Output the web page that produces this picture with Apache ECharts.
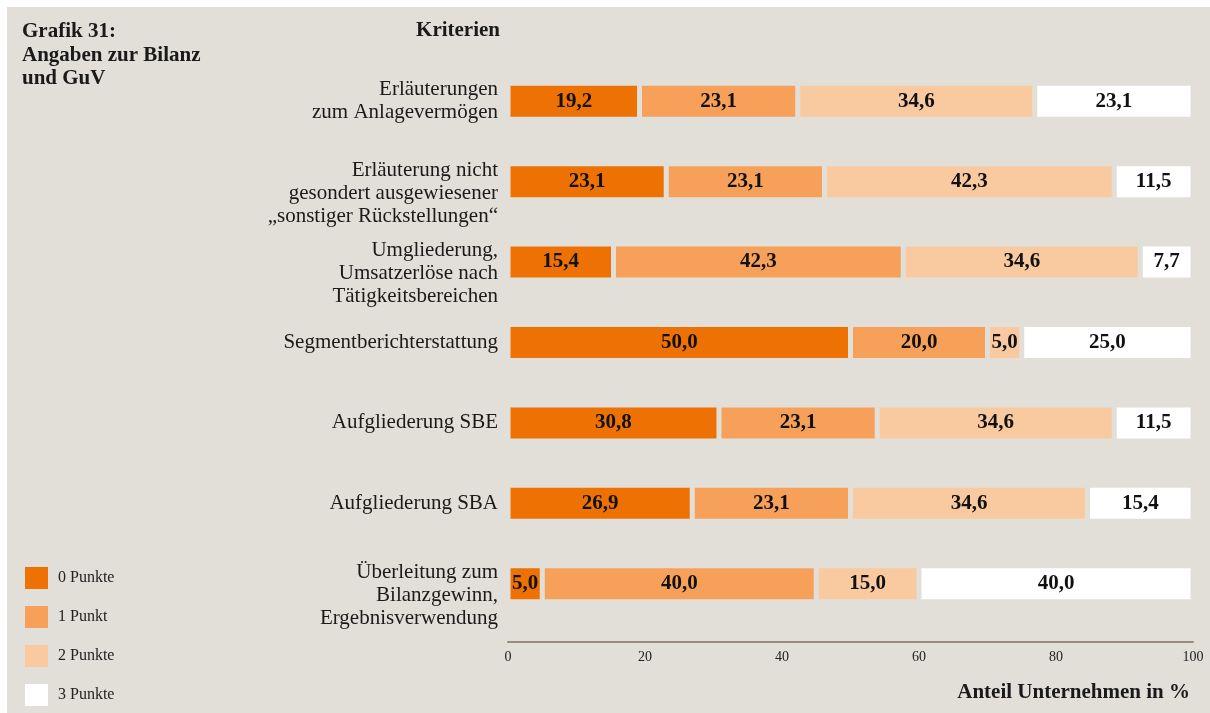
<!DOCTYPE html>
<html>
<head>
<meta charset="utf-8">
<script src="https://cdn.jsdelivr.net/npm/echarts@6/dist/echarts.min.js"></script>
<style>
  html, body { margin: 0; padding: 0; background: #ffffff; }
  #chart { position: absolute; left: 7px; top: 7px; width: 1203px; height: 706px; }
</style>
</head>
<body>
<div id="chart"></div>
<script>
// Kriterien (von oben nach unten)
var categories = [
  'Erläuterungen\nzum Anlagevermögen',
  'Erläuterung nicht\ngesondert ausgewiesener\n„sonstiger Rückstellungen“',
  'Umgliederung,\nUmsatzerlöse nach\nTätigkeitsbereichen',
  'Segmentberichterstattung',
  'Aufgliederung SBE',
  'Aufgliederung SBA',
  'Überleitung zum\nBilanzgewinn,\nErgebnisverwendung'
];
var seriesNames = ['0 Punkte', '1 Punkt', '2 Punkte', '3 Punkte'];
var punkte0 = [19.2, 23.1, 15.4, 50.0, 30.8, 26.9, 5.0];
var punkte1 = [23.1, 23.1, 42.3, 20.0, 23.1, 23.1, 40.0];
var punkte2 = [34.6, 42.3, 34.6, 5.0, 34.6, 34.6, 15.0];
var punkte3 = [23.1, 11.5, 7.7, 25.0, 11.5, 15.4, 40.0];
var xTicks = [0, 20, 40, 60, 80, 100];

var bg = '#e2dfd8';
var colors = ['#ee7203', '#f6a05a', '#f9caa0', '#ffffff'];
var serif = '"Liberation Serif", "DejaVu Serif", serif';

var chart = echarts.init(document.getElementById('chart'));

function makeSeries(name, data, color) {
  return {
    name: name,
    type: 'bar',
    stack: 'total',
    barWidth: 36,
    data: data,
    itemStyle: { color: color, borderColor: bg, borderWidth: 2.5 },
    label: {
      show: true,
      position: 'inside',
      color: '#111',
      fontFamily: serif,
      fontWeight: 'bold',
      fontSize: 21,
      formatter: function (p) { return p.value.toFixed(1).replace('.', ','); }
    }
  };
}

var option = {
  backgroundColor: bg,
  animation: false,
  grid: { left: 501, right: 17, top: 54, bottom: 89 },
  legend: {
    orient: 'vertical',
    left: 18,
    top: 560,
    padding: 0,
    itemWidth: 23,
    itemHeight: 22,
    itemGap: 17,
    icon: 'rect',
    itemStyle: { borderWidth: 0 },
    textStyle: { fontFamily: serif, fontSize: 16, color: '#222', padding: [2, 0, 0, 5] },
    data: seriesNames
  },
  xAxis: {
    type: 'value',
    min: 0,
    max: 100,
    interval: 20,
    offset: 18,
    axisLine: { show: true, lineStyle: { color: '#9a8b7f', width: 2 } },
    axisTick: { show: false },
    splitLine: { show: false },
    axisLabel: {
      margin: 8,
      fontFamily: serif,
      fontSize: 14,
      color: '#222',
      formatter: function (v) { return xTicks.indexOf(v) >= 0 ? String(v) : ''; }
    }
  },
  yAxis: {
    type: 'category',
    inverse: true,
    data: categories,
    axisLine: { show: false },
    axisTick: { show: false },
    axisLabel: {
      margin: 10,
      fontFamily: serif,
      fontSize: 21,
      lineHeight: 23,
      color: '#1a1a1a',
      formatter: function (v) {
        return v.split('\n').length === 3 ? '\n' + v : v;
      }
    }
  },
  graphic: [
    {
      type: 'text', left: 15, top: 13,
      style: {
        text: 'Grafik 31:\nAngaben zur Bilanz\nund GuV',
        font: 'bold 21px ' + serif, lineHeight: 23.5, fill: '#1a1a1a'
      }
    },
    {
      type: 'text', x: 493, y: 24,
      style: {
        text: 'Kriterien', font: 'bold 21px ' + serif,
        textAlign: 'right', textVerticalAlign: 'middle', fill: '#1a1a1a'
      }
    },
    {
      type: 'text', x: 1183, y: 686,
      style: {
        text: 'Anteil Unternehmen in %', font: 'bold 21px ' + serif,
        textAlign: 'right', textVerticalAlign: 'middle', fill: '#1a1a1a'
      }
    }
  ],
  series: [
    makeSeries(seriesNames[0], punkte0, colors[0]),
    makeSeries(seriesNames[1], punkte1, colors[1]),
    makeSeries(seriesNames[2], punkte2, colors[2]),
    makeSeries(seriesNames[3], punkte3, colors[3])
  ]
};

chart.setOption(option);
</script>
</body>
</html>
